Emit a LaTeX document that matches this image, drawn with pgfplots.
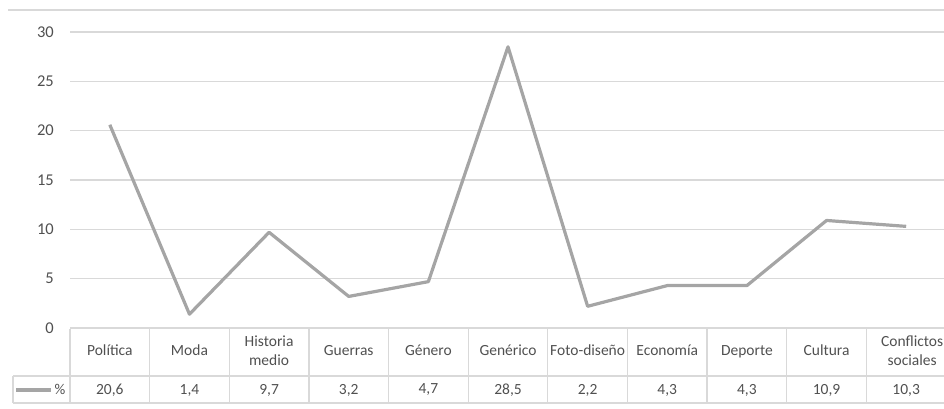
\documentclass[border=0pt]{standalone}
\usepackage{pgfplots}
\pgfplotsset{compat=1.18}
\usepackage{fontspec}
\setmainfont{Carlito}
\definecolor{txt}{HTML}{505050}
\definecolor{grd}{HTML}{D9D9D9}
\definecolor{ser}{HTML}{A5A5A5}
\begin{document}
\begin{tikzpicture}[x=1pt,y=1pt]
\useasboundingbox (0,0) rectangle (944,-408);
\draw[grd, line width=1.2pt] (8,-10) -- (944,-10);
\begin{axis}[
  at={(70pt,-328pt)}, anchor=south west,
  scale only axis, width=876pt, height=296pt,
  xmin=-0.5, xmax=10.5, ymin=0, ymax=30,
  ytick={0,5,...,30}, ymajorgrids,
  grid style={grd, line width=1.2pt},
  axis line style={draw=none},
  tick style={draw=none}, major tick length=0pt,
  /pgf/number format/assume math mode=true,
  yticklabel style={font=\fontsize{16.5}{18}\selectfont, text=txt, inner sep=0pt, xshift=-16pt},
  xtick={0,...,10},
  xticklabels={Política\strut, Moda\strut, {Historia\strut\\medio\strut}, Guerras\strut, Género\strut, Genérico\strut, Foto-diseño\strut, Economía\strut, Deporte\strut, Cultura\strut, {\hspace*{12pt}Conflictos\strut\\\hspace*{12pt}sociales\strut}},
  xticklabel style={font=\fontsize{15.5}{19}\selectfont, text=txt, anchor=center, align=center, inner sep=0pt, yshift=-24pt},
  extra x ticks={0,...,10},
  extra x tick labels={{20,6},{1,4},{9,7},{3,2},{4,7},{28,5},{2,2},{4,3},{4,3},{10,9},{10,3}},
  extra x tick style={xticklabel style={yshift=-38pt}},
  legend style={draw=none, fill=none, at={(axis description cs:0,0)}, anchor=center, xshift=-29pt, yshift=-62pt, font=\fontsize{15}{18}\selectfont, text=txt, inner sep=0pt, legend cell align=left},
  legend image code/.code={\draw[#1] (0pt,0pt) -- (35pt,0pt);},
  clip=false,
]
\addplot[ser, line width=3.2pt, line join=round, mark=none] coordinates {
  (0,20.6) (1,1.4) (2,9.7) (3,3.2) (4,4.7) (5,28.5) (6,2.2) (7,4.3) (8,4.3) (9,10.9) (10,10.3)};
\addlegendentry{\%}
\end{axis}
\begin{scope}[grd, line width=1.2pt]
\draw (70,-328.5) -- (946,-328.5);
\draw (13,-376) -- (946,-376);
\draw (13,-403) -- (946,-403);
\draw (13,-376) -- (13,-403);
\foreach \k in {0,...,10} \draw ({70+79.636*\k},-328.5) -- ++(0,-74.5);
\end{scope}
\end{tikzpicture}
\end{document}
